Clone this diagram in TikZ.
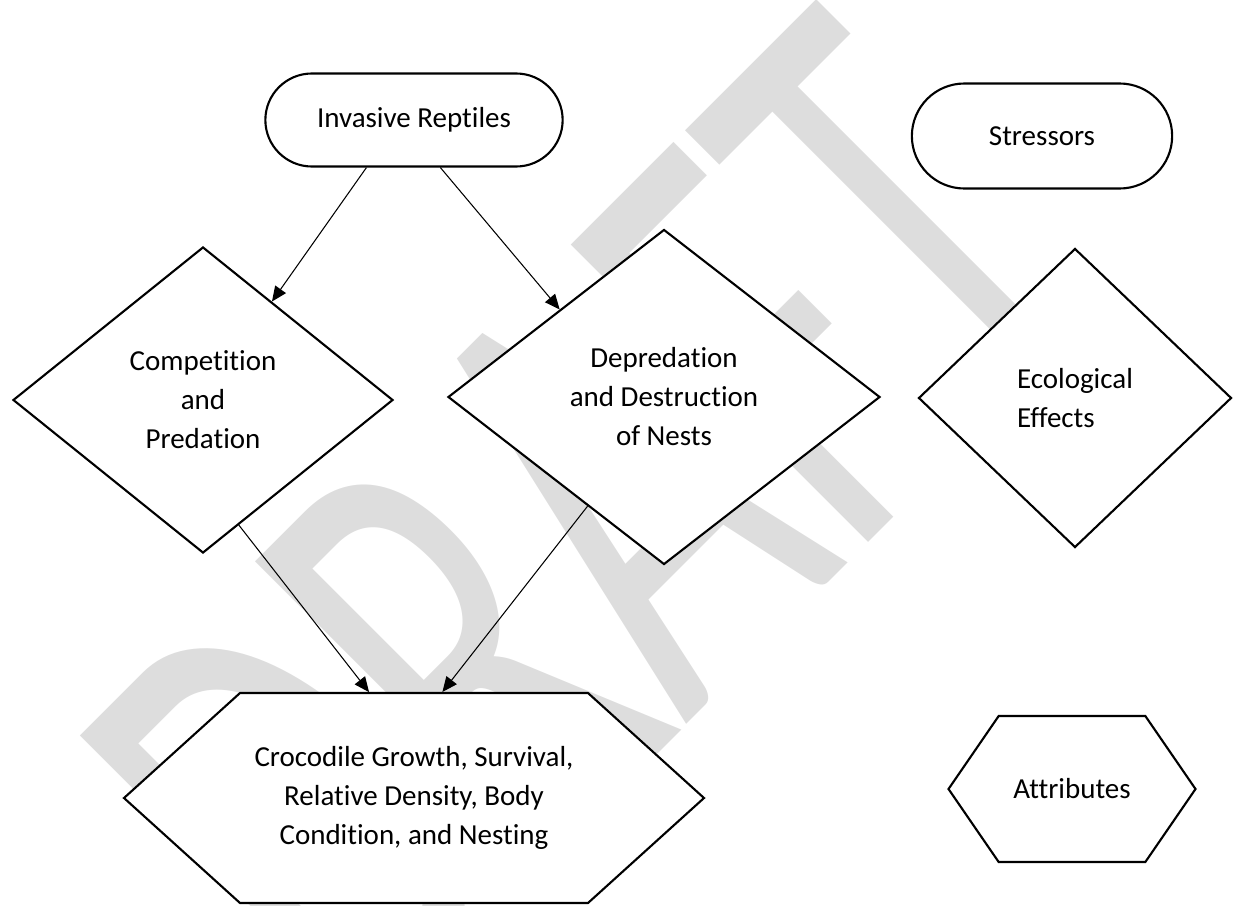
\documentclass[tikz,border=0pt]{standalone}
\usepackage{fontspec}
\setmainfont{Carlito}[Ligatures={NoCommon}]
\newfontfamily\wmfont{Carlito}[Ligatures={NoCommon}]
\usepackage{tikz}
\usetikzlibrary{arrows.meta}
\usetikzlibrary{shapes.geometric}
\usetikzlibrary{shapes.misc}
\usetikzlibrary{shapes.symbols}
\usetikzlibrary{positioning}
\definecolor{wmgray}{RGB}{221,221,221}
\tikzset{
  stressor/.style={rounded rectangle, draw, fill=white, line width=1.2pt},
  effect/.style={diamond, draw, fill=white, line width=1.2pt, align=center},
  attribute/.style={signal, signal to=east and west, draw, fill=white,
    line width=1.2pt, align=center},
  connector/.style={line width=0.6pt},
  watermark/.style={anchor=base west, inner sep=0pt, text=wmgray,
    font=\wmfont\fontsize{100}{100}\selectfont, transform shape}
}

\begin{document}
\begin{tikzpicture}[>={Triangle[length=3mm,width=2.6mm]},
      on grid,
      font=\fontsize{16.5}{22.2}\selectfont]

    \useasboundingbox (0,0) rectangle (24.66,-18.10);

    % watermark behind everything
    \begin{scope}
      \clip (0,0) rectangle (24.66,-18.10);
      \begin{scope}[shift={(7.15,-21.07)}, rotate=45, xscale=2.276, yscale=3.73]
        \node[watermark] (draft) at (0,0) {DRAFT};
      \end{scope}
    \end{scope}

    \node[stressor, minimum width=6.18cm, minimum height=1.86cm]
      (ireptiles) at (8.28,-2.40) {Invasive Reptiles};
    \node[effect, minimum width=7.6cm, minimum height=6.12cm]
      (competition) [below left=5.6cm and 4.22cm of ireptiles] {Competition\\and\\Predation};
    \node[effect, minimum width=8.64cm, minimum height=6.7cm]
      (depredation) [below right=5.54cm and 5.0cm of ireptiles] {Depredation\\and Destruction\\of Nests};
    \node[attribute, minimum width=11.6cm, minimum height=4.2cm, signal pointer angle=84.3]
      (crocgrowth) [below=13.56cm of ireptiles] {Crocodile Growth, Survival,\\Relative Density, Body\\Condition, and Nesting};

    % legend
    \node[stressor, minimum width=5.44cm, minimum height=2.1cm]
      (stressors) [right=12.56cm of ireptiles, yshift=-0.32cm] {Stressors};
    \node[effect, minimum width=6.26cm, minimum height=5.98cm, align=left]
      (ecoeffects) [below=5.24cm of stressors, xshift=0.66cm] {Ecological\\Effects};
    \node[attribute, minimum width=4.94cm, minimum height=2.92cm, signal pointer angle=111]
      (attributes) [below=7.82cm of ecoeffects, xshift=-0.06cm] {Attributes};

    \path[->, connector]
      (ireptiles.225) edge (competition.55)
      (ireptiles.299) edge (depredation.140)
      (competition.286) edge (crocgrowth.113.5)
      (depredation.235) edge (crocgrowth.75);

  \end{tikzpicture}
\end{document}
